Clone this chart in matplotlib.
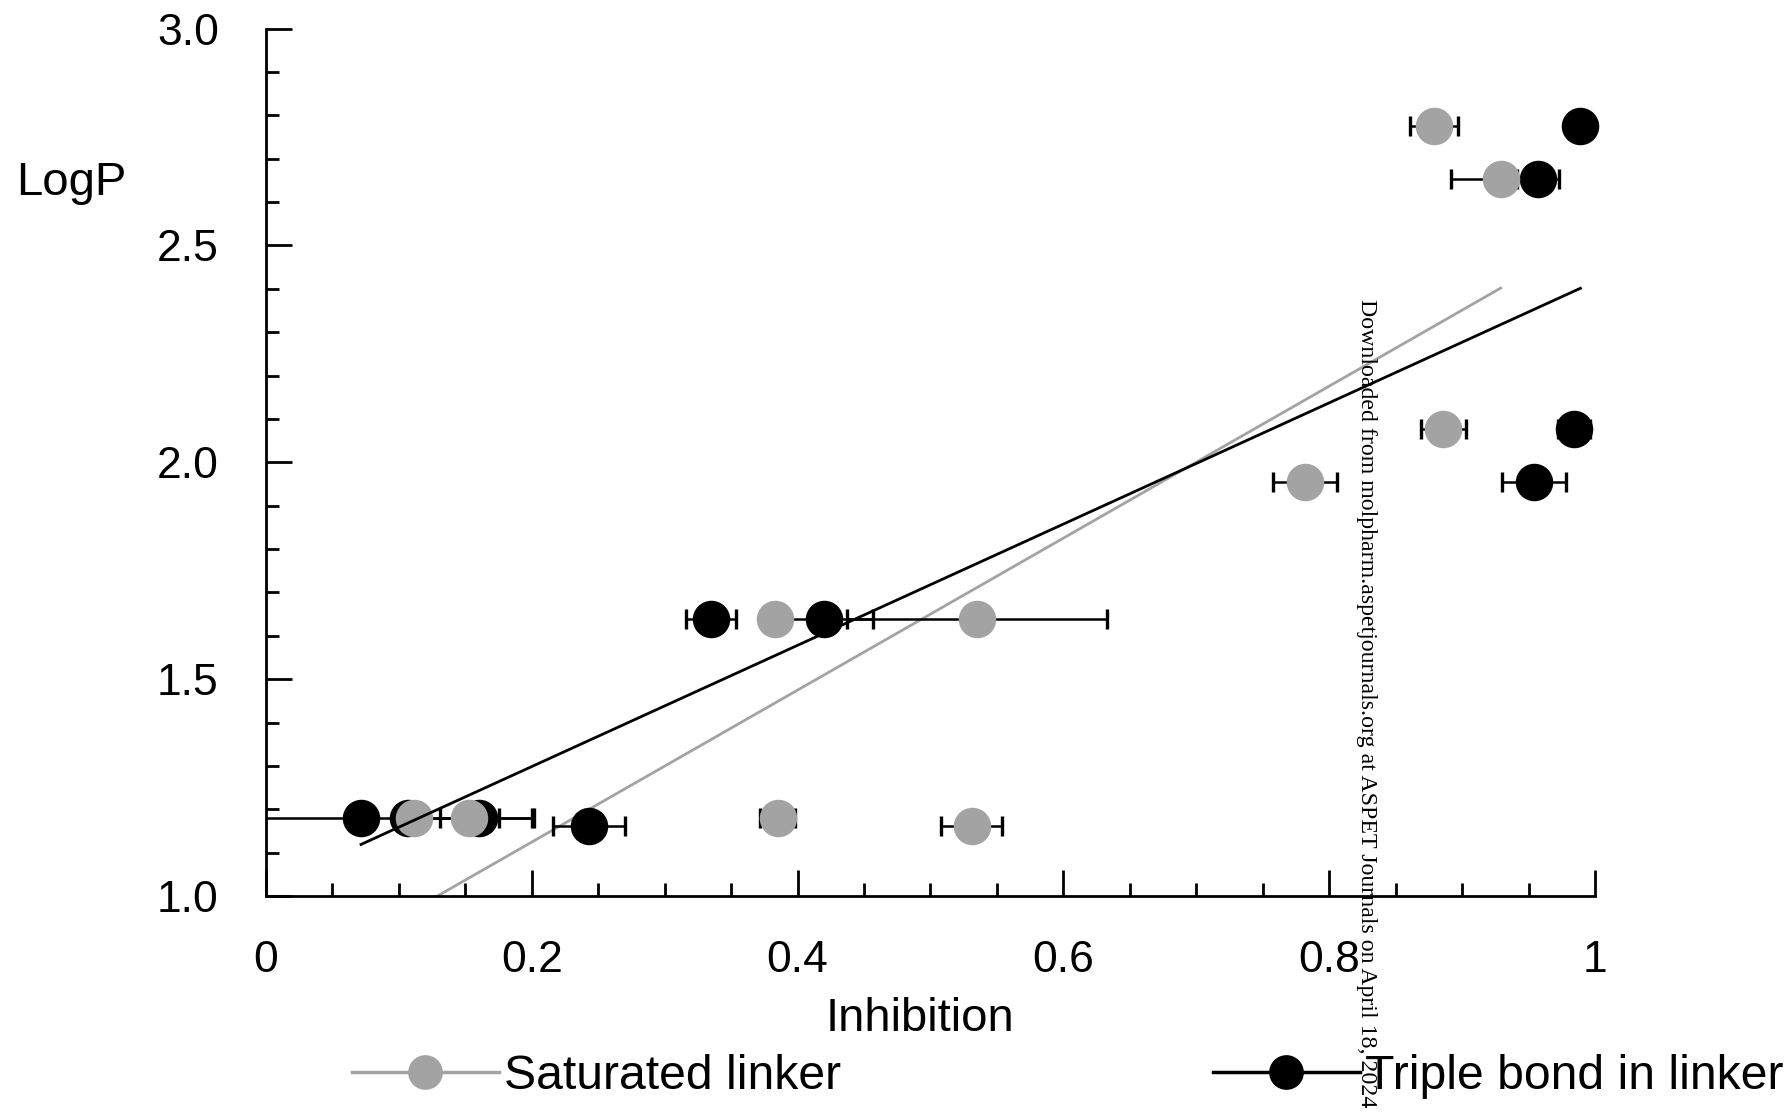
import matplotlib
matplotlib.use("Agg")
import matplotlib.pyplot as plt
from matplotlib.lines import Line2D
from matplotlib.ticker import MultipleLocator, FixedLocator
import numpy as np

plt.rcParams['font.family'] = ['Liberation Sans', 'DejaVu Sans']

# ---- data ----
sat_x = [0.879, 0.929, 0.886, 0.782, 0.383, 0.535, 0.385, 0.531, 0.111, 0.153]
sat_y = [2.776, 2.654, 2.077, 1.955, 1.639, 1.639, 1.180, 1.161, 1.180, 1.180]
sat_xerr = [0.018, 0.037, 0.017, 0.024, 0.008, 0.098, 0.013, 0.023, 0.008, 0.022]

tri_x = [0.989, 0.957, 0.984, 0.954, 0.335, 0.420, 0.243, 0.0715, 0.160, 0.107]
tri_y = [2.776, 2.654, 2.077, 1.955, 1.639, 1.639, 1.161, 1.180, 1.180, 1.180]
tri_xerr = [0.0, 0.016, 0.012, 0.024, 0.019, 0.037, 0.027, 0.130, 0.040, 0.008]

# linear fits (slope, intercept) as drawn in the reference
sat_fit = (1.752, 0.774)
tri_fit = (1.3976, 1.019)

labels = ["Saturated linker", "Triple bond in linker"]
xtick_vals = [0, 0.2, 0.4, 0.6, 0.8, 1.0]
xtick_labels = ["0", "0.2", "0.4", "0.6", "0.8", "1"]
ytick_vals = [1.0, 1.5, 2.0, 2.5, 3.0]
ytick_labels = ["1.0", "1.5", "2.0", "2.5", "3.0"]
watermark = "Downloaded from molpharm.aspetjournals.org at ASPET Journals on April 18, 2024"

GRAY = "#a3a3a3"

fig = plt.figure(figsize=(17.91, 11.14), dpi=100)
ax = fig.add_axes([0.14852, 0.19569, 0.74204, 0.77864])

# regression lines
xs = np.array([min(sat_x), max(sat_x)])
ax.plot(xs, sat_fit[0] * xs + sat_fit[1], color=GRAY, lw=2, zorder=1)


def series(x, y, xerr, color, z):
    eb = ax.errorbar(x, y, xerr=xerr, fmt='o', ms=27, color=color, ecolor='black',
                     elinewidth=1.8, capsize=7, capthick=2.4, zorder=z)
    data_line, caplines, barcols = eb.lines
    data_line.set_markeredgewidth(0)
    data_line.set_clip_on(False)
    data_line.set_zorder(z + 0.1)
    for c in caplines:
        c.set_zorder(z - 0.05)
    for b in barcols:
        b.set_zorder(z - 0.05)
    return eb


series(tri_x, tri_y, tri_xerr, 'black', 2)
series(sat_x, sat_y, sat_xerr, GRAY, 3)

xt = np.array([min(tri_x), max(tri_x)])
ax.plot(xt, tri_fit[0] * xt + tri_fit[1], color='black', lw=2, zorder=4)

ax.set_xlim(0, 1)
ax.set_ylim(1, 3)
for s in ['top', 'right']:
    ax.spines[s].set_visible(False)
for s in ['left', 'bottom']:
    ax.spines[s].set_linewidth(2)

ax.xaxis.set_major_locator(FixedLocator(xtick_vals))
ax.set_xticklabels(xtick_labels)
ax.xaxis.set_minor_locator(MultipleLocator(0.05))
ax.yaxis.set_major_locator(FixedLocator(ytick_vals))
ax.set_yticklabels(ytick_labels)
ax.yaxis.set_minor_locator(MultipleLocator(0.1))

ax.tick_params(which='major', direction='in', length=18.5, width=2, labelsize=32)
ax.tick_params(which='minor', direction='in', length=9.5, width=2)
ax.tick_params(axis='x', which='major', pad=32)
ax.tick_params(axis='y', which='major', pad=34)

ax.set_xlabel("Inhibition", fontsize=34, va='center')
ax.xaxis.set_label_coords(0.492, -0.142)
ax.set_ylabel("LogP", fontsize=34, rotation=0, ha='center', va='center')
ax.yaxis.set_label_coords(-0.1467, 0.8215)

handles = [
    Line2D([], [], color=GRAY, lw=2.5, marker='o', ms=25, mew=0, mfc=GRAY),
    Line2D([], [], color='black', lw=2.5, marker='o', ms=25, mew=0, mfc='black'),
]
fig.legend(handles, labels, loc='center left', bbox_to_anchor=(352 / 1791, 0.034),
           ncol=2, frameon=False, fontsize=34.7, handlelength=3.05,
           handletextpad=0.1, columnspacing=7.72, borderaxespad=0, borderpad=0)

fig.text(1366 / 1791, 1 - 299 / 1114, watermark, rotation=-90, ha='center', va='top',
         fontsize=17.2, family=['Liberation Serif', 'DejaVu Serif'], zorder=10)

fig.savefig("out.png", dpi=100)
